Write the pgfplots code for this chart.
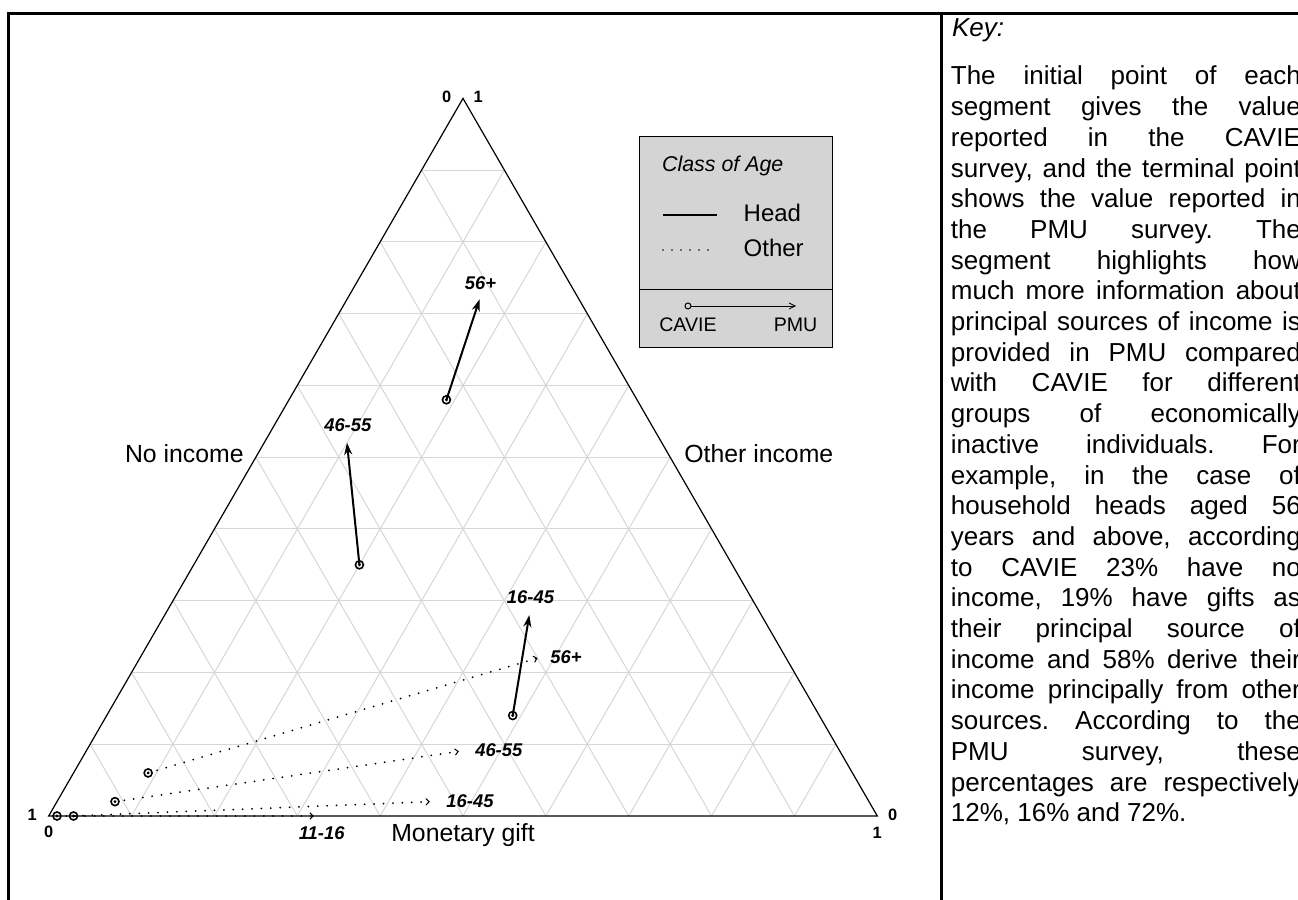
\documentclass[border=0pt]{standalone}
\usepackage{fontspec}
\setmainfont{Liberation Sans}
\usepackage{pgfplots}
\pgfplotsset{compat=1.18}
\usepackage{pgfplotstable}
\usetikzlibrary{arrows.meta}
\frenchspacing

% ternary values: N = no income, G = monetary gift, O = other income
% first row = CAVIE, second row = PMU
\pgfplotstableread{
N G O
0.23 0.19 0.58
0.12 0.16 0.72
}\headSix
\pgfplotstableread{
N G O
0.45 0.20 0.35
0.38 0.10 0.52
}\headFour
\pgfplotstableread{
N G O
0.37 0.49 0.14
0.28 0.44 0.28
}\headOne
\pgfplotstableread{
N G O
0.85 0.09 0.06
0.30 0.48 0.22
}\otherSix
\pgfplotstableread{
N G O
0.91 0.07 0.02
0.46 0.45 0.09
}\otherFour
\pgfplotstableread{
N G O
0.97 0.03 0.00
0.53 0.45 0.02
}\otherOne
\pgfplotstableread{
N G O
0.99 0.01 0.00
0.68 0.32 0.00
}\otherEleven

\newcommand{\TX}{48.7+828.6*(\thisrow{G}+0.5*\thisrow{O})}
\newcommand{\TY}{84+717.6*\thisrow{O}}

\definecolor{gridc}{RGB}{214,214,214}
\definecolor{legbg}{RGB}{212,212,212}

\tikzset{
  lab/.style={font=\fontsize{9.2}{11}\selectfont\bfseries\itshape, inner sep=0pt},
  corner/.style={font=\fontsize{8.2}{10}\selectfont\bfseries, inner sep=0pt},
}
\pgfplotsset{
  headseg/.style={black, line width=1pt, -{Stealth[length=6pt,width=4pt]}},
  otherseg/.style={black, line width=1pt, dash pattern=on 0pt off 4.7pt, line cap=round,
     -{Straight Barb[length=1.6pt,width=3.2pt,line width=0.5pt]}},
  startmark/.style={only marks, mark=o, mark size=2pt, mark options={line width=0.8pt, black, solid}},
  startdot/.style={only marks, mark=*, mark size=0.5pt, mark options={black}},
}

\begin{document}
\begin{tikzpicture}
\begin{axis}[
  at={(0pt,0pt)}, anchor=south west,
  width=649pt, height=450pt, scale only axis,
  xmin=0, xmax=1298, ymin=0, ymax=900,
  hide axis, clip=false,
]
% grid
\pgfplotsinvokeforeach{1,...,9}{
  \draw[gridc, line width=0.5pt] ({48.7+41.43*#1},{84+71.76*#1}) -- ({877.3-41.43*#1},{84+71.76*#1});
  \draw[gridc, line width=0.5pt] ({48.7+82.86*#1},84) -- ({463+41.43*#1},{801.6-71.76*#1});
  \draw[gridc, line width=0.5pt] ({877.3-82.86*#1},84) -- ({463-41.43*#1},{801.6-71.76*#1});
}
% triangle
\draw[black, line width=0.6pt] (48.7,84) -- (877.3,84) -- (463,801.6) -- cycle;

% segments: heads
\addplot[headseg] table[x expr=\TX, y expr=\TY] {\headSix};
\addplot[headseg] table[x expr=\TX, y expr=\TY] {\headFour};
\addplot[headseg] table[x expr=\TX, y expr=\TY] {\headOne};
% segments: others
\addplot[otherseg] table[x expr=\TX, y expr=\TY] {\otherSix};
\addplot[otherseg] table[x expr=\TX, y expr=\TY] {\otherFour};
\addplot[otherseg] table[x expr=\TX, y expr=\TY] {\otherOne};
\addplot[otherseg] table[x expr=\TX, y expr=\TY] {\otherEleven};
% start markers (CAVIE)
\addplot[startmark] table[x expr=\TX, y expr=\TY, skip coords between index={1}{2}] {\headSix};
\addplot[startmark] table[x expr=\TX, y expr=\TY, skip coords between index={1}{2}] {\headFour};
\addplot[startmark] table[x expr=\TX, y expr=\TY, skip coords between index={1}{2}] {\headOne};
\addplot[startmark] table[x expr=\TX, y expr=\TY, skip coords between index={1}{2}] {\otherSix};
\addplot[startmark] table[x expr=\TX, y expr=\TY, skip coords between index={1}{2}] {\otherFour};
\addplot[startmark] table[x expr=\TX, y expr=\TY, skip coords between index={1}{2}] {\otherOne};
\addplot[startmark] table[x expr=\TX, y expr=\TY, skip coords between index={1}{2}] {\otherEleven};
\addplot[startdot] table[x expr=\TX, y expr=\TY, skip coords between index={1}{2}] {\headSix};
\addplot[startdot] table[x expr=\TX, y expr=\TY, skip coords between index={1}{2}] {\headFour};
\addplot[startdot] table[x expr=\TX, y expr=\TY, skip coords between index={1}{2}] {\headOne};
\addplot[startdot] table[x expr=\TX, y expr=\TY, skip coords between index={1}{2}] {\otherSix};
\addplot[startdot] table[x expr=\TX, y expr=\TY, skip coords between index={1}{2}] {\otherFour};
\addplot[startdot] table[x expr=\TX, y expr=\TY, skip coords between index={1}{2}] {\otherOne};
\addplot[startdot] table[x expr=\TX, y expr=\TY, skip coords between index={1}{2}] {\otherEleven};

% segment labels
\node[lab] at (480.5,616.7) {56+};
\node[lab] at (347.8,475) {46-55};
\node[lab] at (530.5,302.7) {16-45};
\node[lab, anchor=west] at (550,243.3) {56+};
\node[lab] at (498.8,150) {46-55};
\node[lab] at (470,99) {16-45};
\node[lab] at (321.7,66.7) {11-16};

% corner labels
\node[corner] at (446.7,803.3) {0};
\node[corner] at (478.3,803.3) {1};
\node[corner] at (32.3,85) {1};
\node[corner] at (48.7,68.3) {0};
\node[corner] at (892.7,85) {0};
\node[corner] at (877.3,67.3) {1};

% axis labels
\node[font=\fontsize{12.4}{14}\selectfont, anchor=base east, inner sep=0pt] at (244,437.3) {No income};
\node[font=\fontsize{12.4}{14}\selectfont, anchor=base west, inner sep=0pt] at (684,437.3) {Other income};
\node[font=\fontsize{12.4}{14}\selectfont, inner sep=0pt] at (463,65) {Monetary gift};

% legend box
\draw[black, line width=0.5pt, fill=legbg] (639,552.3) rectangle (832,763.3);
\draw[black, line width=0.5pt] (639,610.7) -- (832,610.7);
\node[font=\fontsize{10.7}{12}\selectfont\itshape, anchor=base west, inner sep=0pt] at (661.7,728.5) {Class of Age};
\draw[black, line width=0.8pt] (663,685) -- (717,685);
\node[font=\fontsize{12}{14}\selectfont, anchor=base west, inner sep=0pt] at (743.3,678) {Head};
\draw[black, line width=0.8pt, dash pattern=on 0pt off 4.5pt, line cap=round] (663,650) -- (717,650);
\node[font=\fontsize{12}{14}\selectfont, anchor=base west, inner sep=0pt] at (743.3,643) {Other};
\draw[black, line width=0.4pt, -{Straight Barb[length=3pt,width=3pt]}] (691,594) -- (796,594);
\draw[black, line width=0.5pt, fill=legbg] (688,594) circle[radius=1.5pt];
\node[font=\fontsize{9.8}{12}\selectfont, anchor=base, inner sep=0pt] at (688,568.3) {CAVIE};
\node[font=\fontsize{9.8}{12}\selectfont, anchor=base, inner sep=0pt] at (795.6,568.3) {PMU};

% frame
\draw[black, line width=1.3pt] (8.6,0) -- (8.6,886.7) -- (1298,886.7);
\draw[black, line width=1.3pt] (941.5,0) -- (941.5,886.7);

% key
\node[font=\fontsize{13}{15.35}\selectfont\itshape, anchor=base west, inner sep=0pt] at (951.7,863) {Key:};
\node[font=\fontsize{13}{15.35}\selectfont, anchor=base west, inner sep=0pt] at (950.5,815) {\parbox[t]{175pt}{%
\makebox[175pt][s]{The initial point of each}\\
\makebox[175pt][s]{segment gives the value}\\
\makebox[175pt][s]{reported in the CAVIE}\\
\makebox[175pt][s]{survey, and the terminal point}\\
\makebox[175pt][s]{shows the value reported in}\\
\makebox[175pt][s]{the PMU survey. The}\\
\makebox[175pt][s]{segment highlights how}\\
\makebox[175pt][s]{much more information about}\\
\makebox[175pt][s]{principal sources of income is}\\
\makebox[175pt][s]{provided in PMU compared}\\
\makebox[175pt][s]{with CAVIE for different}\\
\makebox[175pt][s]{groups of economically}\\
\makebox[175pt][s]{inactive individuals. For}\\
\makebox[175pt][s]{example, in the case of}\\
\makebox[175pt][s]{household heads aged 56}\\
\makebox[175pt][s]{years and above, according}\\
\makebox[175pt][s]{to CAVIE 23\% have no}\\
\makebox[175pt][s]{income, 19\% have gifts as}\\
\makebox[175pt][s]{their principal source of}\\
\makebox[175pt][s]{income and 58\% derive their}\\
\makebox[175pt][s]{income principally from other}\\
\makebox[175pt][s]{sources. According to the}\\
\makebox[175pt][s]{PMU survey, these}\\
\makebox[175pt][s]{percentages are respectively}\\
12\%, 16\% and 72\%.}};
\end{axis}
\pgfresetboundingbox
\path[use as bounding box] (0pt,0pt) rectangle (649pt,450pt);
\end{tikzpicture}
\end{document}
